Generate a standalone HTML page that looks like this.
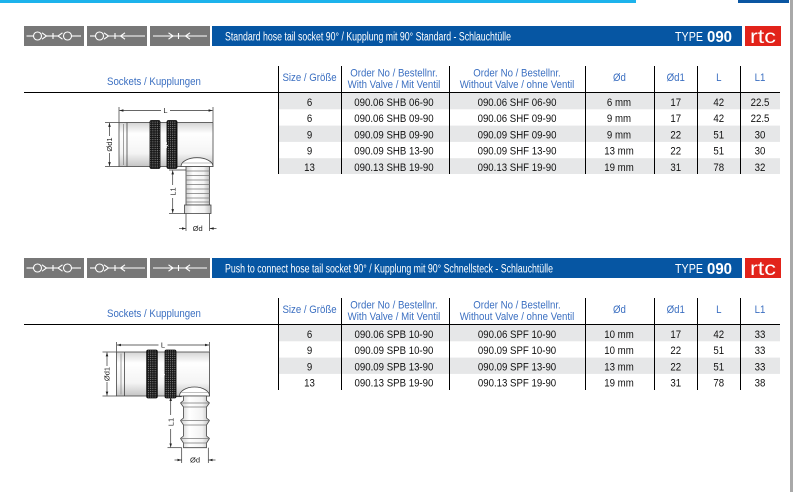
<!DOCTYPE html>
<html><head><meta charset="utf-8"><style>
html,body{margin:0;padding:0;background:#fff;width:793px;height:492px;overflow:hidden}
svg{display:block;font-family:"Liberation Sans",Arial,sans-serif}
</style></head><body>
<svg width="793" height="492" viewBox="0 0 793 492" xmlns="http://www.w3.org/2000/svg">
<defs>
<pattern id="kn" width="2.2" height="2.2" patternUnits="userSpaceOnUse"><rect width="2.2" height="2.2" fill="#151515"/><circle cx="1.1" cy="1.1" r="0.5" fill="#b5b5b5"/></pattern>
<marker id="ar" viewBox="0 0 6 4" refX="6" refY="2" markerWidth="4" markerHeight="2.6" markerUnits="userSpaceOnUse" orient="auto-start-reverse"><path d="M0,0L6,2L0,4z" fill="#222"/></marker>
<linearGradient id="cyl" x1="0" y1="0" x2="0" y2="1"><stop offset="0" stop-color="#d4d4d4"/><stop offset="0.25" stop-color="#ffffff"/><stop offset="0.7" stop-color="#f4f4f4"/><stop offset="1" stop-color="#c4c4c4"/></linearGradient>
<linearGradient id="cylv" x1="0" y1="0" x2="1" y2="0"><stop offset="0" stop-color="#cfcfcf"/><stop offset="0.3" stop-color="#ffffff"/><stop offset="0.75" stop-color="#f2f2f2"/><stop offset="1" stop-color="#bdbdbd"/></linearGradient>
<g id="hdr">
<rect x="24" y="26" width="60" height="20" fill="#777"/>
<rect x="87" y="26" width="60" height="20" fill="#777"/>
<rect x="150" y="26" width="60" height="20" fill="#777"/>
<rect x="212" y="26" width="530" height="20" fill="#0656a3"/>
<rect x="745" y="26" width="36" height="20" fill="#e2231a"/>
<g stroke="#fff" stroke-width="1.1" fill="none">
<line x1="26.5" y1="36" x2="33.3" y2="36"/>
<circle cx="37.5" cy="36" r="4"/>
<polyline points="42,32.8 46.5,36 42,39.2"/>
<line x1="46.5" y1="36" x2="58" y2="36"/>
<line x1="53" y1="33" x2="53" y2="39"/>
<polyline points="62.5,32.8 58,36 62.5,39.2"/>
<circle cx="67.5" cy="36" r="4"/>
<line x1="71.5" y1="36" x2="81" y2="36"/>

<line x1="90" y1="36" x2="95.5" y2="36"/>
<circle cx="99.5" cy="36" r="4"/>
<polyline points="104,32.8 108.5,36 104,39.2"/>
<line x1="108.5" y1="36" x2="145" y2="36"/>
<line x1="115" y1="33" x2="115" y2="39"/>
<polyline points="125,32.8 120.5,36 125,39.2"/>

<line x1="153" y1="36" x2="207" y2="36"/>
<polyline points="168.5,32.8 173,36 168.5,39.2"/>
<line x1="178.5" y1="33" x2="178.5" y2="39"/>
<polyline points="190,32.8 185.5,36 190,39.2"/>
</g>
</g>
</defs>

<rect x="0" y="0" width="636" height="3" fill="#1db3ec"/>
<rect x="738" y="0" width="51" height="3" fill="#0a56a2"/>
<rect x="790" y="0" width="3" height="492" fill="#a9a9a9"/>

<use href="#hdr"/>
<use href="#hdr" y="232"/>

<!-- header texts -->
<g fill="#fff">
<text x="225" y="40.5" font-size="11.5" textLength="286" lengthAdjust="spacingAndGlyphs">Standard hose tail socket 90° / Kupplung mit 90° Standard - Schlauchtülle</text>
<text x="675" y="41" font-size="13" textLength="28" lengthAdjust="spacingAndGlyphs">TYPE</text>
<text x="707" y="42" font-size="16" font-weight="bold" textLength="25" lengthAdjust="spacingAndGlyphs">090</text>
<text x="763" y="43" font-size="19" text-anchor="middle" textLength="26" lengthAdjust="spacingAndGlyphs">rtc</text>

<text x="225" y="272.5" font-size="11.5" textLength="328" lengthAdjust="spacingAndGlyphs">Push to connect hose tail socket 90° / Kupplung mit 90° Schnellsteck - Schlauchtülle</text>
<text x="675" y="273" font-size="13" textLength="28" lengthAdjust="spacingAndGlyphs">TYPE</text>
<text x="707" y="274" font-size="16" font-weight="bold" textLength="25" lengthAdjust="spacingAndGlyphs">090</text>
<text x="763" y="275" font-size="19" text-anchor="middle" textLength="26" lengthAdjust="spacingAndGlyphs">rtc</text>
</g>

<!-- table 1 shading and lines -->
<g fill="#e6e7e8">
<rect x="279" y="93" width="501" height="16.3"/>
<rect x="279" y="125.6" width="501" height="16.3"/>
<rect x="279" y="158.2" width="501" height="15.8"/>
<rect x="279" y="325" width="501" height="16.3"/>
<rect x="279" y="357.6" width="501" height="16.3"/>
</g>
<g stroke="#000" stroke-width="1">
<line x1="24" y1="92.5" x2="780" y2="92.5"/>
<line x1="278.5" y1="66" x2="278.5" y2="174"/>
<line x1="341.5" y1="66" x2="341.5" y2="174"/>
<line x1="449.5" y1="66" x2="449.5" y2="174"/>
<line x1="585.5" y1="66" x2="585.5" y2="174"/>
<line x1="654.5" y1="66" x2="654.5" y2="174"/>
<line x1="697.5" y1="66" x2="697.5" y2="174"/>
<line x1="740.5" y1="66" x2="740.5" y2="174"/>

<line x1="24" y1="324.5" x2="780" y2="324.5"/>
<line x1="278.5" y1="298" x2="278.5" y2="390"/>
<line x1="341.5" y1="298" x2="341.5" y2="390"/>
<line x1="449.5" y1="298" x2="449.5" y2="390"/>
<line x1="585.5" y1="298" x2="585.5" y2="390"/>
<line x1="654.5" y1="298" x2="654.5" y2="390"/>
<line x1="697.5" y1="298" x2="697.5" y2="390"/>
<line x1="740.5" y1="298" x2="740.5" y2="390"/>
</g>

<!-- table header texts -->
<g transform="scale(0.84,1)" font-size="11.5" fill="#3b6fc1" text-anchor="middle">
<text x="183.3" y="85">Sockets / Kupplungen</text>
<text x="368.5" y="81">Size / Größe</text>
<text x="469" y="76.5">Order No / Bestellnr.</text>
<text x="469" y="88">With Valve / Mit Ventil</text>
<text x="615.5" y="76.5">Order No / Bestellnr.</text>
<text x="615.5" y="88">Without Valve / ohne Ventil</text>
<text x="737.5" y="81">Ød</text>
<text x="804.5" y="81">Ød1</text>
<text x="855.7" y="81">L</text>
<text x="904.8" y="81">L1</text>

<text x="183.3" y="317">Sockets / Kupplungen</text>
<text x="368.5" y="313">Size / Größe</text>
<text x="469" y="308.5">Order No / Bestellnr.</text>
<text x="469" y="320">With Valve / Mit Ventil</text>
<text x="615.5" y="308.5">Order No / Bestellnr.</text>
<text x="615.5" y="320">Without Valve / ohne Ventil</text>
<text x="737.5" y="313">Ød</text>
<text x="804.5" y="313">Ød1</text>
<text x="855.7" y="313">L</text>
<text x="904.8" y="313">L1</text>
</g>

<!-- table data -->
<g transform="scale(0.84,1)" font-size="11.5" fill="#111" text-anchor="middle">
<text x="368.5" y="105.8">6</text><text x="469" y="105.8">090.06 SHB 06-90</text><text x="615.5" y="105.8">090.06 SHF 06-90</text><text x="736.9" y="105.8">6 mm</text><text x="804.5" y="105.8">17</text><text x="855.7" y="105.8">42</text><text x="904.8" y="105.8">22.5</text>
<text x="368.5" y="122.1">6</text><text x="469" y="122.1">090.06 SHB 09-90</text><text x="615.5" y="122.1">090.06 SHF 09-90</text><text x="736.9" y="122.1">9 mm</text><text x="804.5" y="122.1">17</text><text x="855.7" y="122.1">42</text><text x="904.8" y="122.1">22.5</text>
<text x="368.5" y="138.4">9</text><text x="469" y="138.4">090.09 SHB 09-90</text><text x="615.5" y="138.4">090.09 SHF 09-90</text><text x="736.9" y="138.4">9 mm</text><text x="804.5" y="138.4">22</text><text x="855.7" y="138.4">51</text><text x="904.8" y="138.4">30</text>
<text x="368.5" y="154.7">9</text><text x="469" y="154.7">090.09 SHB 13-90</text><text x="615.5" y="154.7">090.09 SHF 13-90</text><text x="736.9" y="154.7">13 mm</text><text x="804.5" y="154.7">22</text><text x="855.7" y="154.7">51</text><text x="904.8" y="154.7">30</text>
<text x="368.5" y="171">13</text><text x="469" y="171">090.13 SHB 19-90</text><text x="615.5" y="171">090.13 SHF 19-90</text><text x="736.9" y="171">19 mm</text><text x="804.5" y="171">31</text><text x="855.7" y="171">78</text><text x="904.8" y="171">32</text>

<text x="368.5" y="337.8">6</text><text x="469" y="337.8">090.06 SPB 10-90</text><text x="615.5" y="337.8">090.06 SPF 10-90</text><text x="736.9" y="337.8">10 mm</text><text x="804.5" y="337.8">17</text><text x="855.7" y="337.8">42</text><text x="904.8" y="337.8">33</text>
<text x="368.5" y="354.1">9</text><text x="469" y="354.1">090.09 SPB 10-90</text><text x="615.5" y="354.1">090.09 SPF 10-90</text><text x="736.9" y="354.1">10 mm</text><text x="804.5" y="354.1">22</text><text x="855.7" y="354.1">51</text><text x="904.8" y="354.1">33</text>
<text x="368.5" y="370.4">9</text><text x="469" y="370.4">090.09 SPB 13-90</text><text x="615.5" y="370.4">090.09 SPF 13-90</text><text x="736.9" y="370.4">13 mm</text><text x="804.5" y="370.4">22</text><text x="855.7" y="370.4">51</text><text x="904.8" y="370.4">33</text>
<text x="368.5" y="386.7">13</text><text x="469" y="386.7">090.13 SPB 19-90</text><text x="615.5" y="386.7">090.13 SPF 19-90</text><text x="736.9" y="386.7">19 mm</text><text x="804.5" y="386.7">31</text><text x="855.7" y="386.7">78</text><text x="904.8" y="386.7">38</text>
</g>

<!-- ===== Drawing 1 ===== -->
<g stroke="#333" stroke-width="0.7" fill="none">
<line x1="105" y1="122.5" x2="119" y2="122.5"/>
<line x1="105" y1="166.5" x2="119" y2="166.5"/>
<line x1="109.5" y1="136" x2="109.5" y2="123" marker-end="url(#ar)"/>
<line x1="109.5" y1="153" x2="109.5" y2="166" marker-end="url(#ar)"/>
<line x1="119" y1="107" x2="119" y2="122"/>
<line x1="213" y1="107" x2="213" y2="122"/>
<line x1="161" y1="110.5" x2="119.5" y2="110.5" marker-end="url(#ar)"/>
<line x1="170" y1="110.5" x2="212.5" y2="110.5" marker-end="url(#ar)"/>
<line x1="169" y1="170" x2="186" y2="170"/>
<line x1="169" y1="213.5" x2="185" y2="213.5"/>
<line x1="172.7" y1="185" x2="172.7" y2="170.5" marker-end="url(#ar)"/>
<line x1="172.7" y1="198" x2="172.7" y2="213" marker-end="url(#ar)"/>
<line x1="186" y1="213.5" x2="186" y2="231"/>
<line x1="209.5" y1="213.5" x2="209.5" y2="231"/>
<line x1="179" y1="228.5" x2="185.7" y2="228.5" marker-end="url(#ar)"/>
<line x1="216.5" y1="228.5" x2="209.8" y2="228.5" marker-end="url(#ar)"/>
</g>
<g fill="#222" font-size="7.5" text-anchor="middle">
<text x="165.5" y="113">L</text>
<text transform="translate(112,144.5) rotate(-90)">Ød1</text>
<text transform="translate(175.5,191.5) rotate(-90)">L1</text>
<text x="197.7" y="231">Ød</text>
</g>
<g stroke="#444" stroke-width="0.8">
<rect x="119" y="122.5" width="94" height="44" fill="url(#cyl)"/>
<line x1="123.5" y1="124" x2="123.5" y2="165" stroke="#888"/>
<line x1="127" y1="122.5" x2="127" y2="166.5"/>
<line x1="177" y1="122.5" x2="177" y2="166.5" stroke="#999"/>
<rect x="150" y="120.5" width="10" height="48" rx="1.5" fill="url(#kn)" stroke="#000"/>
<rect x="167" y="120.5" width="10" height="48" rx="1.5" fill="url(#kn)" stroke="#000"/>
<path d="M181,166.5 A16,8.8 0 0 1 213,166.5 Z" fill="#fff"/>
<line x1="183" y1="163" x2="211" y2="163" stroke="#aaa"/>
<rect x="186" y="166.5" width="23.5" height="38.5" fill="url(#cylv)"/>
<g stroke="#777" stroke-width="0.7">
<line x1="186" y1="171" x2="209.5" y2="171"/><line x1="186" y1="175.5" x2="209.5" y2="175.5"/>
<line x1="186" y1="180" x2="209.5" y2="180"/><line x1="186" y1="184.5" x2="209.5" y2="184.5"/>
<line x1="186" y1="189" x2="209.5" y2="189"/><line x1="186" y1="193.5" x2="209.5" y2="193.5"/>
<line x1="186" y1="198" x2="209.5" y2="198"/><line x1="186" y1="202" x2="209.5" y2="202"/>
</g>
<rect x="184.5" y="205" width="26.5" height="8.5" fill="url(#cylv)"/>
</g>
<text transform="translate(163.5,145) rotate(90)" font-size="6" font-weight="bold" fill="#fff" text-anchor="middle">ab</text>

<!-- ===== Drawing 2 ===== -->
<g stroke="#333" stroke-width="0.7" fill="none">
<line x1="102.5" y1="352" x2="116.5" y2="352"/>
<line x1="102.5" y1="396" x2="116.5" y2="396"/>
<line x1="107" y1="366" x2="107" y2="352.5" marker-end="url(#ar)"/>
<line x1="107" y1="382" x2="107" y2="395.5" marker-end="url(#ar)"/>
<line x1="116.5" y1="342" x2="116.5" y2="351.5"/>
<line x1="209.5" y1="342" x2="209.5" y2="351.5"/>
<line x1="158.5" y1="345" x2="117" y2="345" marker-end="url(#ar)"/>
<line x1="167.5" y1="345" x2="209" y2="345" marker-end="url(#ar)"/>
<line x1="167.5" y1="396.7" x2="181.7" y2="396.7"/>
<line x1="167.5" y1="447.7" x2="181.7" y2="447.7"/>
<line x1="170.7" y1="415" x2="170.7" y2="397.2" marker-end="url(#ar)"/>
<line x1="170.7" y1="429" x2="170.7" y2="447.2" marker-end="url(#ar)"/>
<line x1="181.7" y1="447.7" x2="181.7" y2="463"/>
<line x1="208.3" y1="447.7" x2="208.3" y2="463"/>
<line x1="174.5" y1="460" x2="181.4" y2="460" marker-end="url(#ar)"/>
<line x1="215.5" y1="460" x2="208.6" y2="460" marker-end="url(#ar)"/>
</g>
<g fill="#222" font-size="7.5" text-anchor="middle">
<text x="163" y="347.5">L</text>
<text transform="translate(109.6,374) rotate(-90)">Ød1</text>
<text transform="translate(173.4,422) rotate(-90)">L1</text>
<text x="195" y="462.6">Ød</text>
</g>
<g stroke="#444" stroke-width="0.8">
<rect x="116.5" y="352" width="93" height="44" fill="url(#cyl)"/>
<line x1="121" y1="353.5" x2="121" y2="394.5" stroke="#888"/>
<line x1="124.5" y1="352" x2="124.5" y2="396"/>
<line x1="176" y1="352" x2="176" y2="396" stroke="#999"/>
<rect x="146.7" y="350" width="10.6" height="48" rx="1.5" fill="url(#kn)" stroke="#000"/>
<rect x="165" y="350" width="11" height="48" rx="1.5" fill="url(#kn)" stroke="#000"/>
<path d="M179.5,396 A15,9 0 0 1 209.5,396 Z" fill="#fff"/>
<line x1="181.5" y1="392.5" x2="207.5" y2="392.5" stroke="#aaa"/>
<path d="M183.5,396 L183.5,400.5 L180.5,403 L183.5,407 L183.5,418 L180.5,420.5 L183.5,425 L183.5,436 L180.5,438.5 L183.5,443 L183.5,447.7 L206.5,447.7 L206.5,443 L209.5,438.5 L206.5,436 L206.5,425 L209.5,420.5 L206.5,418 L206.5,407 L209.5,403 L206.5,400.5 L206.5,396 Z" fill="url(#cylv)"/>
<g stroke="#777" stroke-width="0.7">
<line x1="180.5" y1="403" x2="209.5" y2="403"/><line x1="183.5" y1="407" x2="206.5" y2="407"/>
<line x1="180.5" y1="420.5" x2="209.5" y2="420.5"/><line x1="183.5" y1="425" x2="206.5" y2="425"/>
<line x1="180.5" y1="438.5" x2="209.5" y2="438.5"/><line x1="183.5" y1="443" x2="206.5" y2="443"/>
</g>
</g>
<text transform="translate(160.5,374) rotate(90)" font-size="6" font-weight="bold" fill="#fff" text-anchor="middle">ab</text>
</svg>
</body></html>
